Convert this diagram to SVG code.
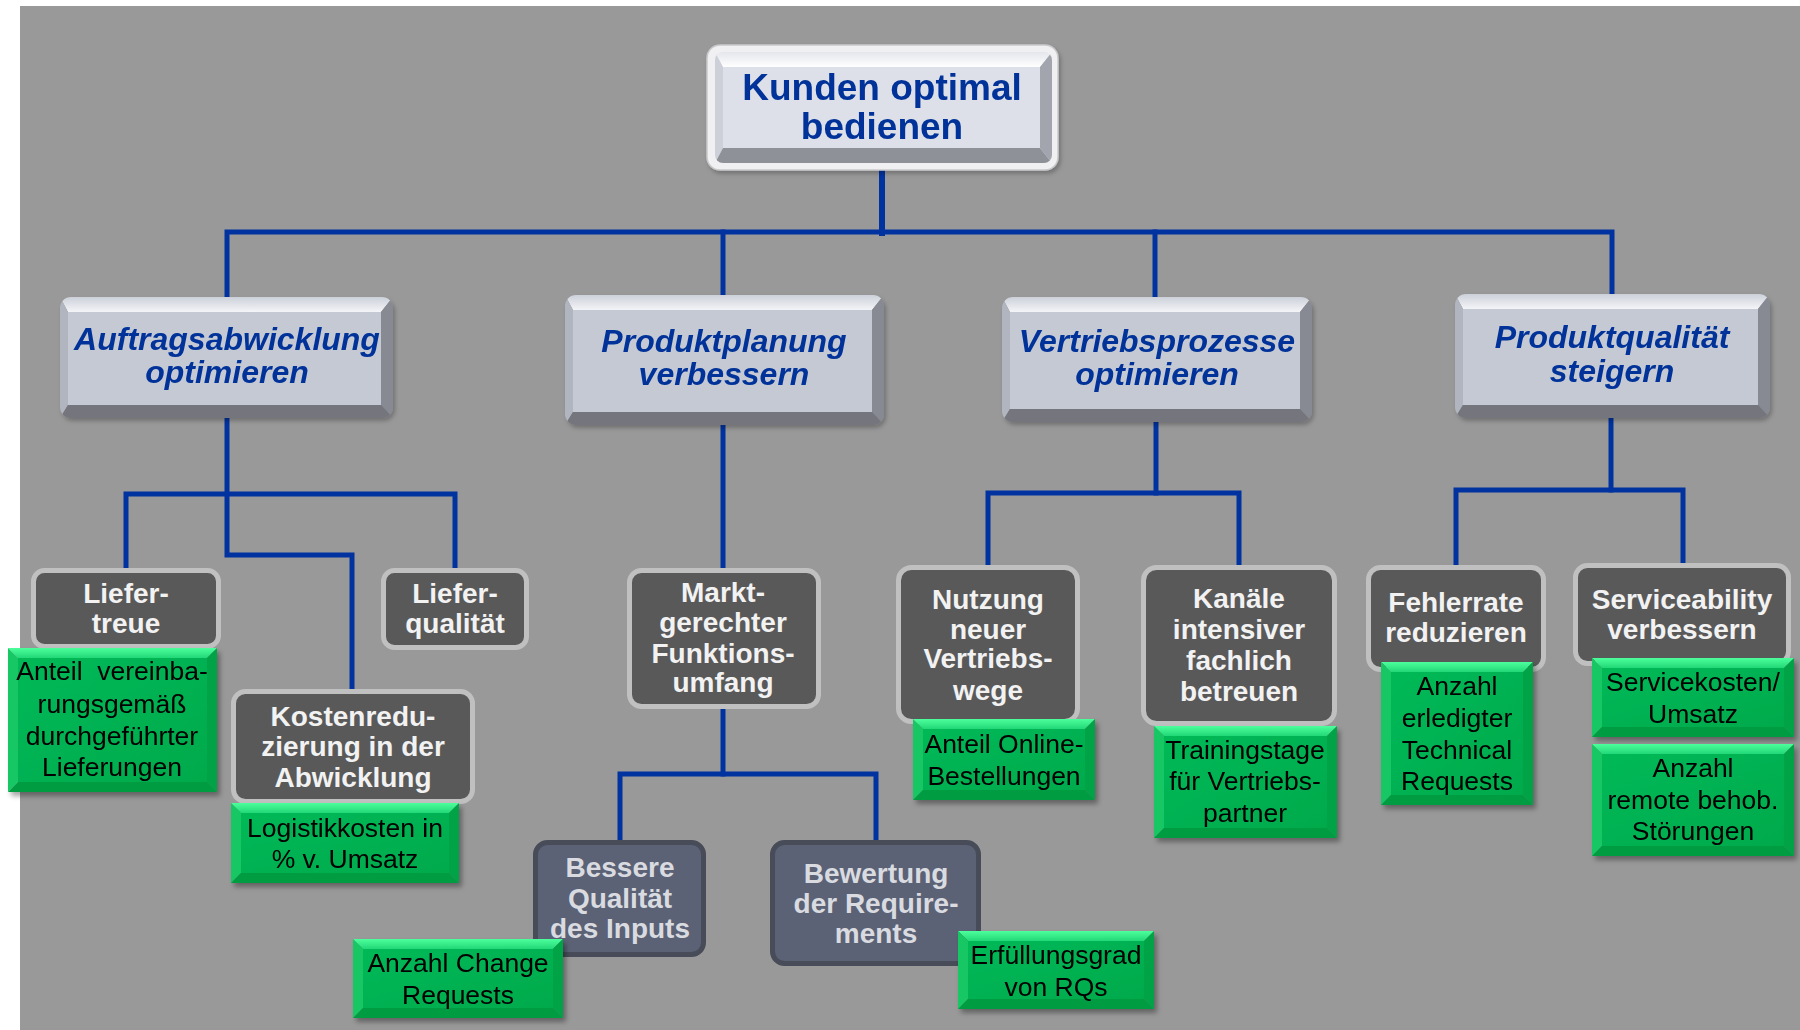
<svg xmlns="http://www.w3.org/2000/svg" width="1800" height="1030" viewBox="0 0 1800 1030">
<style>
.conn{fill:none;stroke:#0033a0;stroke-width:5;stroke-linejoin:miter;stroke-linecap:square}
.bt{fill:url(#gTop)}
.bl{fill:#b1b5bf}
.br{fill:#878a92}
.bb{fill:#74767d}
.bf{fill:#c5c9d3}
.rt{fill:url(#gTopR)}
.rl{fill:#cdd0d8}
.rr{fill:#a2a5ad}
.rb{fill:#8e9198}
.rf{fill:#dde0e8}
.t1{font-family:"Liberation Sans",Arial,sans-serif;font-weight:bold;fill:#003399;text-anchor:middle}
.t2{font-family:"Liberation Sans",Arial,sans-serif;font-weight:bold;font-style:italic;font-size:32px;fill:#003399;text-anchor:middle}
.dk{fill:#595959;stroke:#c0c0c0;stroke-width:5}
.sl{fill:#5b6275;stroke:#474c58;stroke-width:5}
.t3{font-family:"Liberation Sans",Arial,sans-serif;font-weight:bold;font-size:28px;fill:#f2f2f2;text-anchor:middle}
.t4{font-family:"Liberation Sans",Arial,sans-serif;font-weight:bold;font-size:28px;fill:#d9dbe0;text-anchor:middle}
.gt{fill:url(#gGT)}
.gl{fill:#12c763}
.gr{fill:#00a446}
.gb{fill:#009c42}
.gf{fill:url(#gGF)}
.t5{font-family:"Liberation Sans",Arial,sans-serif;font-size:26.5px;fill:#000;text-anchor:middle}
</style>
<defs>
<linearGradient id="gTop" x1="0" y1="0" x2="0" y2="1"><stop offset="0" stop-color="#ccd0d9"/><stop offset="1" stop-color="#f4f5f8"/></linearGradient>
<linearGradient id="gTopR" x1="0" y1="0" x2="0" y2="1"><stop offset="0" stop-color="#e4e6ec"/><stop offset="1" stop-color="#ffffff"/></linearGradient>
<linearGradient id="gGT" x1="0" y1="0" x2="0" y2="1"><stop offset="0" stop-color="#4dff9c"/><stop offset="1" stop-color="#22d877"/></linearGradient>
<linearGradient id="gGF" x1="0" y1="0" x2="1" y2="1"><stop offset="0" stop-color="#06b957"/><stop offset="1" stop-color="#00aa4c"/></linearGradient>
<filter id="sh" x="-10%" y="-10%" width="125%" height="130%"><feDropShadow dx="3" dy="4" stdDeviation="2.5" flood-color="#000" flood-opacity="0.35"/></filter>
<filter id="sh2" x="-10%" y="-10%" width="125%" height="130%"><feDropShadow dx="2" dy="3" stdDeviation="2" flood-color="#000" flood-opacity="0.25"/></filter>
<clipPath id="cA"><rect x="60" y="297" width="333" height="121" rx="11"/></clipPath>
<clipPath id="cP"><rect x="565" y="295" width="319" height="130" rx="11"/></clipPath>
<clipPath id="cV"><rect x="1002" y="297" width="310" height="125" rx="11"/></clipPath>
<clipPath id="cQ"><rect x="1455" y="294" width="315" height="124" rx="11"/></clipPath>
<clipPath id="cR"><rect x="715" y="52" width="337" height="111" rx="8"/></clipPath>
</defs>

<rect x="0" y="0" width="1800" height="1030" fill="#ffffff"/>
<rect x="20" y="6" width="1780" height="1024" fill="#999999"/>

<g id="connectors">
<path class="conn" style="stroke-width:6" d="M882,168 V233"/>
<path class="conn" d="M227,297 V232 H1612 V294"/>
<path class="conn" d="M723,232 V295"/>
<path class="conn" d="M1155,232 V297"/>
<path class="conn" d="M227,418 V555 H352 V689"/>
<path class="conn" d="M126,568 V494 H455 V568"/>
<path class="conn" d="M723,425 V568"/>
<path class="conn" d="M723,709 V774"/>
<path class="conn" d="M620,840 V774 H876 V840"/>
<path class="conn" d="M1156,422 V493"/>
<path class="conn" d="M988,565 V493 H1239 V565"/>
<path class="conn" d="M1611,418 V490"/>
<path class="conn" d="M1456,565 V490 H1683 V563"/>
</g>

<g id="root" filter="url(#sh2)">
<rect x="707" y="45" width="351" height="125" rx="13" fill="#f0f0f2" stroke="#c9c9cc" stroke-width="1.5"/>
<g clip-path="url(#cR)">
<polygon class="rt" points="715,52 1052,52 1040,67 723,67"/>
<polygon class="rl" points="715,52 723,67 723,148 715,163"/>
<polygon class="rr" points="1052,52 1052,163 1040,148 1040,67"/>
<polygon class="rb" points="715,163 723,148 1040,148 1052,163"/>
<rect class="rf" x="723" y="67" width="317" height="81"/>
</g>
<text class="t1" font-size="37" x="882" y="100">Kunden optimal</text>
<text class="t1" font-size="37" x="882" y="139">bedienen</text>
</g>

<g id="auftrag" filter="url(#sh2)">
<g clip-path="url(#cA)">
<polygon class="bt" points="60,297 393,297 381,312 68,312"/>
<polygon class="bl" points="60,297 68,312 68,405 60,418"/>
<polygon class="br" points="393,297 393,418 381,405 381,312"/>
<polygon class="bb" points="60,418 68,405 381,405 393,418"/>
<rect class="bf" x="68" y="312" width="313" height="93"/>
</g>
<text class="t2" x="227" y="350">Auftragsabwicklung</text>
<text class="t2" x="227" y="383">optimieren</text>
</g>

<g id="produktplanung" filter="url(#sh2)">
<g clip-path="url(#cP)">
<polygon class="bt" points="565,295 884,295 872,310 573,310"/>
<polygon class="bl" points="565,295 573,310 573,412 565,425"/>
<polygon class="br" points="884,295 884,425 872,412 872,310"/>
<polygon class="bb" points="565,425 573,412 872,412 884,425"/>
<rect class="bf" x="573" y="310" width="299" height="102"/>
</g>
<text class="t2" x="724" y="352">Produktplanung</text>
<text class="t2" x="724" y="385">verbessern</text>
</g>

<g id="vertrieb" filter="url(#sh2)">
<g clip-path="url(#cV)">
<polygon class="bt" points="1002,297 1312,297 1300,312 1010,312"/>
<polygon class="bl" points="1002,297 1010,312 1010,409 1002,422"/>
<polygon class="br" points="1312,297 1312,422 1300,409 1300,312"/>
<polygon class="bb" points="1002,422 1010,409 1300,409 1312,422"/>
<rect class="bf" x="1010" y="312" width="290" height="97"/>
</g>
<text class="t2" x="1157" y="352">Vertriebsprozesse</text>
<text class="t2" x="1157" y="385">optimieren</text>
</g>

<g id="produktqualitaet" filter="url(#sh2)">
<g clip-path="url(#cQ)">
<polygon class="bt" points="1455,294 1770,294 1758,309 1463,309"/>
<polygon class="bl" points="1455,294 1463,309 1463,405 1455,418"/>
<polygon class="br" points="1770,294 1770,418 1758,405 1758,309"/>
<polygon class="bb" points="1455,418 1463,405 1758,405 1770,418"/>
<rect class="bf" x="1463" y="309" width="295" height="96"/>
</g>
<text class="t2" x="1612" y="348">Produktqualität</text>
<text class="t2" x="1612" y="382">steigern</text>
</g>

<g id="liefertreue">
<rect class="dk" x="33.5" y="570.5" width="185" height="76" rx="11"/>
<text class="t3" x="126" y="603">Liefer-</text>
<text class="t3" x="126" y="633">treue</text>
</g>

<g id="lieferqualitaet">
<rect class="dk" x="383.5" y="570.5" width="143" height="77" rx="11"/>
<text class="t3" x="455" y="603">Liefer-</text>
<text class="t3" x="455" y="633">qualität</text>
</g>

<g id="kostenreduzierung">
<rect class="dk" x="233.5" y="691.5" width="239" height="110" rx="12"/>
<text class="t3" x="353" y="726">Kostenredu-</text>
<text class="t3" x="353" y="756">zierung in der</text>
<text class="t3" x="353" y="787">Abwicklung</text>
</g>

<g id="markt">
<rect class="dk" x="629.5" y="570.5" width="189" height="136" rx="12"/>
<text class="t3" x="723" y="602">Markt-</text>
<text class="t3" x="723" y="632">gerechter</text>
<text class="t3" x="723" y="663">Funktions-</text>
<text class="t3" x="723" y="692">umfang</text>
</g>

<g id="bessere">
<rect class="sl" x="535.5" y="842.5" width="168" height="112" rx="12"/>
<text class="t4" x="620" y="877">Bessere</text>
<text class="t4" x="620" y="908">Qualität</text>
<text class="t4" x="620" y="938">des Inputs</text>
</g>

<g id="bewertung">
<rect class="sl" x="772.5" y="842.5" width="206" height="121" rx="12"/>
<text class="t4" x="876" y="883">Bewertung</text>
<text class="t4" x="876" y="913">der Require-</text>
<text class="t4" x="876" y="943">ments</text>
</g>

<g id="nutzung">
<rect class="dk" x="898.5" y="567.5" width="179" height="154" rx="13"/>
<text class="t3" x="988" y="609">Nutzung</text>
<text class="t3" x="988" y="639">neuer</text>
<text class="t3" x="988" y="668">Vertriebs-</text>
<text class="t3" x="988" y="700">wege</text>
</g>

<g id="kanaele">
<rect class="dk" x="1143.5" y="567.5" width="191" height="156" rx="13"/>
<text class="t3" x="1239" y="608">Kanäle</text>
<text class="t3" x="1239" y="639">intensiver</text>
<text class="t3" x="1239" y="670">fachlich</text>
<text class="t3" x="1239" y="701">betreuen</text>
</g>

<g id="fehlerrate">
<rect class="dk" x="1368.5" y="567.5" width="175" height="102" rx="12"/>
<text class="t3" x="1456" y="612">Fehlerrate</text>
<text class="t3" x="1456" y="642">reduzieren</text>
</g>

<g id="serviceability">
<rect class="dk" x="1575.5" y="565.5" width="213" height="98" rx="12"/>
<text class="t3" x="1682" y="609">Serviceability</text>
<text class="t3" x="1682" y="639">verbessern</text>
</g>

<g id="kpi-anteil-lieferungen" filter="url(#sh)">
<polygon class="gt" points="8,648 217,648 207,658 18,658"/>
<polygon class="gl" points="8,648 18,658 18,782 8,792"/>
<polygon class="gr" points="217,648 217,792 207,782 207,658"/>
<polygon class="gb" points="8,792 18,782 207,782 217,792"/>
<rect class="gf" x="18" y="658" width="189" height="124"/>
<text class="t5" x="112" y="680" xml:space="preserve">Anteil  vereinba-</text>
<text class="t5" x="112" y="713">rungsgemäß</text>
<text class="t5" x="112" y="745">durchgeführter</text>
<text class="t5" x="112" y="776">Lieferungen</text>
</g>

<g id="kpi-logistikkosten" filter="url(#sh)">
<polygon class="gt" points="231,803 459,803 449,813 241,813"/>
<polygon class="gl" points="231,803 241,813 241,873 231,883"/>
<polygon class="gr" points="459,803 459,883 449,873 449,813"/>
<polygon class="gb" points="231,883 241,873 449,873 459,883"/>
<rect class="gf" x="241" y="813" width="208" height="60"/>
<text class="t5" x="345" y="837">Logistikkosten in</text>
<text class="t5" x="345" y="868">% v. Umsatz</text>
</g>

<g id="kpi-change-requests" filter="url(#sh)">
<polygon class="gt" points="353,939 563,939 553,949 363,949"/>
<polygon class="gl" points="353,939 363,949 363,1008 353,1018"/>
<polygon class="gr" points="563,939 563,1018 553,1008 553,949"/>
<polygon class="gb" points="353,1018 363,1008 553,1008 563,1018"/>
<rect class="gf" x="363" y="949" width="190" height="59"/>
<text class="t5" x="458" y="972">Anzahl Change</text>
<text class="t5" x="458" y="1004">Requests</text>
</g>

<g id="kpi-erfuellungsgrad" filter="url(#sh)">
<polygon class="gt" points="958,931 1154,931 1144,941 968,941"/>
<polygon class="gl" points="958,931 968,941 968,999 958,1009"/>
<polygon class="gr" points="1154,931 1154,1009 1144,999 1144,941"/>
<polygon class="gb" points="958,1009 968,999 1144,999 1154,1009"/>
<rect class="gf" x="968" y="941" width="176" height="58"/>
<text class="t5" x="1056" y="964">Erfüllungsgrad</text>
<text class="t5" x="1056" y="996">von RQs</text>
</g>

<g id="kpi-online" filter="url(#sh)">
<polygon class="gt" points="913,719 1095,719 1085,729 923,729"/>
<polygon class="gl" points="913,719 923,729 923,790 913,800"/>
<polygon class="gr" points="1095,719 1095,800 1085,790 1085,729"/>
<polygon class="gb" points="913,800 923,790 1085,790 1095,800"/>
<rect class="gf" x="923" y="729" width="162" height="61"/>
<text class="t5" x="1004" y="753">Anteil Online-</text>
<text class="t5" x="1004" y="785">Bestellungen</text>
</g>

<g id="kpi-training" filter="url(#sh)">
<polygon class="gt" points="1154,726 1337,726 1327,736 1164,736"/>
<polygon class="gl" points="1154,726 1164,736 1164,828 1154,838"/>
<polygon class="gr" points="1337,726 1337,838 1327,828 1327,736"/>
<polygon class="gb" points="1154,838 1164,828 1327,828 1337,838"/>
<rect class="gf" x="1164" y="736" width="163" height="92"/>
<text class="t5" x="1245" y="759">Trainingstage</text>
<text class="t5" x="1245" y="790">für Vertriebs-</text>
<text class="t5" x="1245" y="822">partner</text>
</g>

<g id="kpi-technical" filter="url(#sh)">
<polygon class="gt" points="1381,662 1533,662 1523,672 1391,672"/>
<polygon class="gl" points="1381,662 1391,672 1391,795 1381,805"/>
<polygon class="gr" points="1533,662 1533,805 1523,795 1523,672"/>
<polygon class="gb" points="1381,805 1391,795 1523,795 1533,805"/>
<rect class="gf" x="1391" y="672" width="132" height="123"/>
<text class="t5" x="1457" y="695">Anzahl</text>
<text class="t5" x="1457" y="727">erledigter</text>
<text class="t5" x="1457" y="759">Technical</text>
<text class="t5" x="1457" y="790">Requests</text>
</g>

<g id="kpi-servicekosten" filter="url(#sh)">
<polygon class="gt" points="1592,658 1794,658 1784,668 1602,668"/>
<polygon class="gl" points="1592,658 1602,668 1602,727 1592,737"/>
<polygon class="gr" points="1794,658 1794,737 1784,727 1784,668"/>
<polygon class="gb" points="1592,737 1602,727 1784,727 1794,737"/>
<rect class="gf" x="1602" y="668" width="182" height="59"/>
<text class="t5" x="1693" y="691">Servicekosten/</text>
<text class="t5" x="1693" y="723">Umsatz</text>
</g>

<g id="kpi-remote" filter="url(#sh)">
<polygon class="gt" points="1592,744 1794,744 1784,754 1602,754"/>
<polygon class="gl" points="1592,744 1602,754 1602,846 1592,856"/>
<polygon class="gr" points="1794,744 1794,856 1784,846 1784,754"/>
<polygon class="gb" points="1592,856 1602,846 1784,846 1794,856"/>
<rect class="gf" x="1602" y="754" width="182" height="92"/>
<text class="t5" x="1693" y="777">Anzahl</text>
<text class="t5" x="1693" y="809">remote behob.</text>
<text class="t5" x="1693" y="840">Störungen</text>
</g>
</svg>
